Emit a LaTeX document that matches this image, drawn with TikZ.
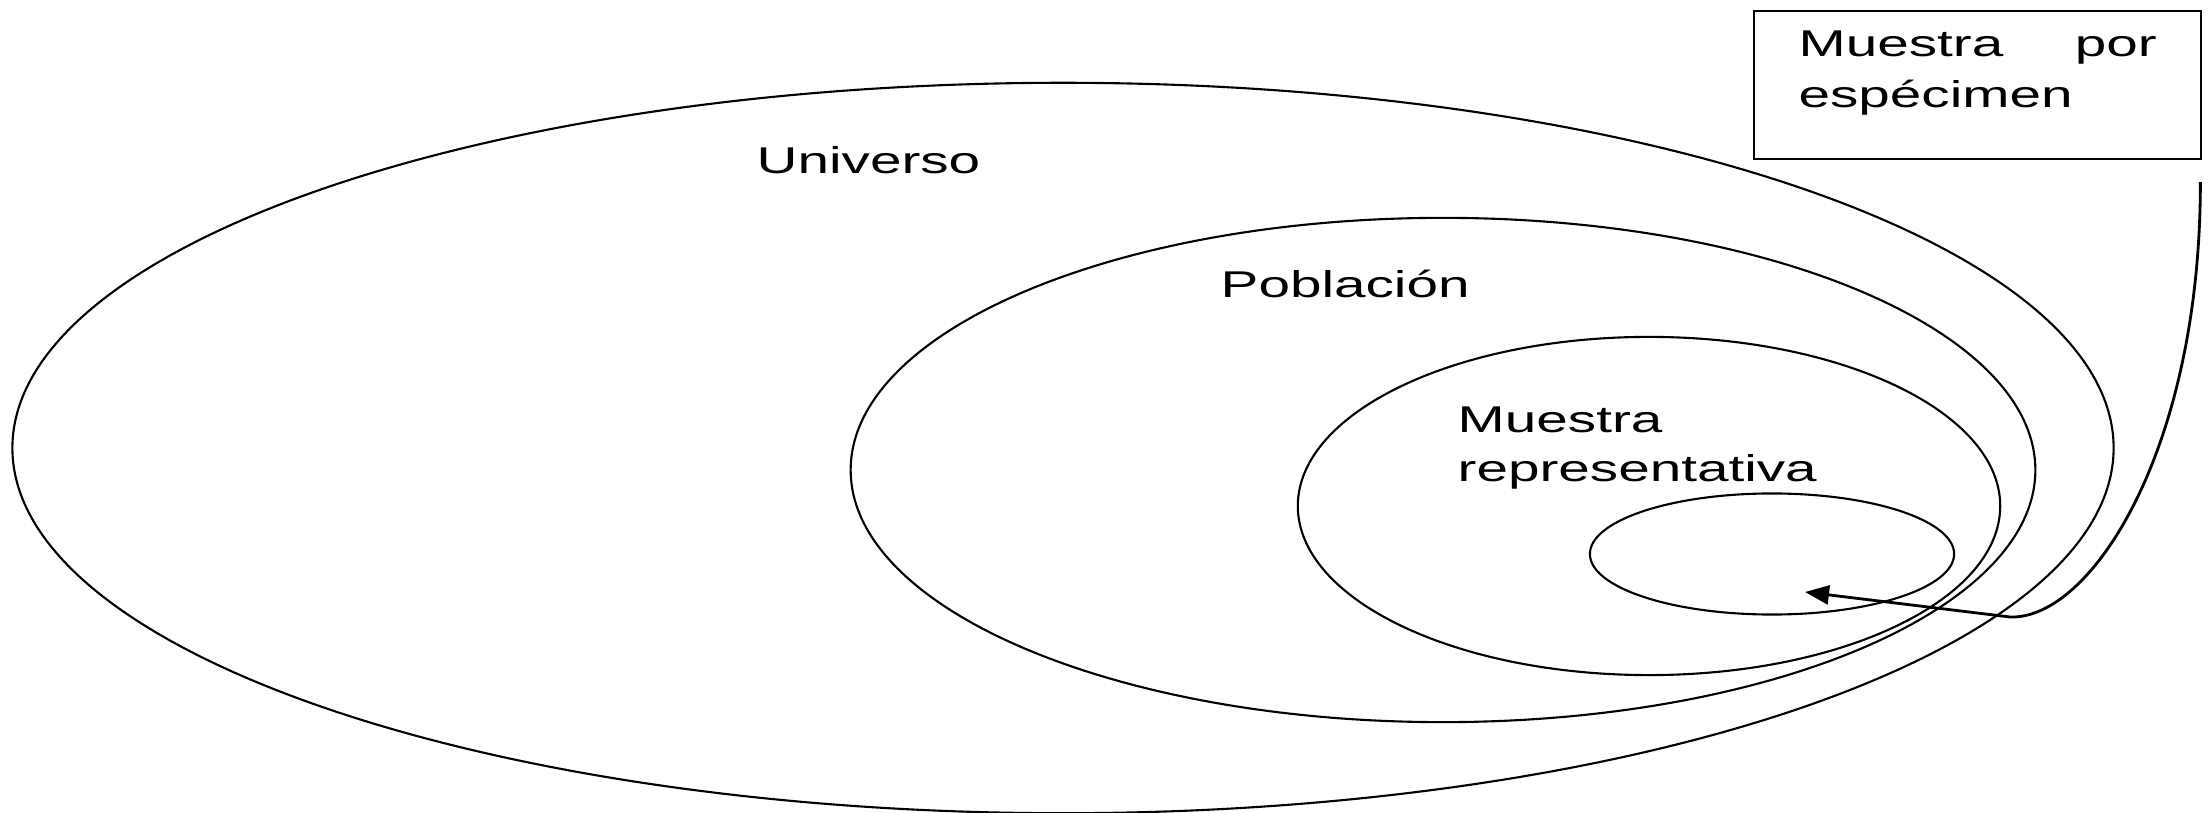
\documentclass[tikz,border=0pt]{standalone}
\usepackage{fontspec}
\setmainfont{Liberation Sans}[FakeStretch=1.52]
\usetikzlibrary{shapes.geometric,arrows.meta,positioning}
\begin{document}
\begin{tikzpicture}[x=0.01cm, y=-0.01cm,
        conjunto/.style = {draw, ellipse, line width=0.6pt, inner sep=0pt},
        letra/.style = {font=\fontsize{10.6pt}{14.6pt}\selectfont},
        etiqueta/.style = {letra, anchor=base west, inner sep=0pt}]
    \useasboundingbox (0,0) rectangle (2212,813);
    \node (universo) [conjunto, minimum width=21cm, minimum height=7.3cm] at (1063,448) {};
    \node (poblacion) [conjunto, minimum width=11.84cm, minimum height=5.04cm] at (1443,470) {};
    \node (representativa) [conjunto, minimum width=7.02cm, minimum height=3.38cm] at (1649,506) {};
    \node (especimen) [conjunto, minimum width=3.64cm, minimum height=1.21cm] at (1772,554) {};
    \node [etiqueta] at (756,174) {Universo};
    \node [etiqueta] at (1220,298) {Población};
    \node [etiqueta] at (1457,433) {Muestra};
    \node [etiqueta] at (1457,482) {representativa};
    \node (caja) [draw, line width=0.6pt, letra, anchor=north west, text width=3.58cm,
        inner xsep=0.445cm, inner ysep=0pt, text height=0.45cm, text depth=1.03cm]
        at (1753,10) {Muestra\hfill por\\espécimen};
    \coordinate (salida) at ([xshift=-0.02cm, yshift=-0.22cm]caja.south east);
    \coordinate (punta) at (1805,592);
    \draw [line width=0.8pt, -{Triangle[length=0.24cm, width=0.19cm]}]
        (salida) .. controls +(0,270) and (2090,620) .. (2010,617) -- (punta);
\end{tikzpicture}
\end{document}
